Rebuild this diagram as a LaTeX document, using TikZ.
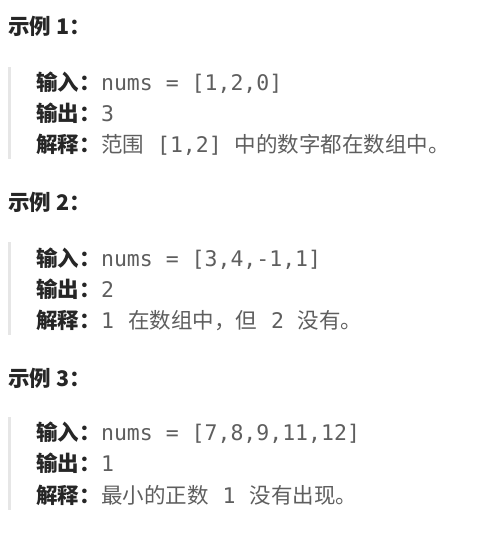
\documentclass[tikz,border=0pt]{standalone}
\usepackage{fontspec}
\setmonofont{DejaVu Sans Mono}
\newfontfamily\cjk{Noto Sans CJK SC}
\usetikzlibrary{positioning}
\definecolor{headcol}{HTML}{262626}
\definecolor{valcol}{HTML}{5E5E5E}
\definecolor{barcol}{HTML}{E6E6E6}
\newcommand{\code}[1]{{\ttfamily\fontsize{21.5}{24}\selectfont #1}}
\tikzset{
  heading/.style={anchor=base west,inner sep=0pt,text=headcol,
                  font=\cjk\bfseries\fontsize{21.5}{24}\selectfont},
  fieldname/.style={anchor=base west,inner sep=0pt,text=headcol,
                    font=\cjk\bfseries\fontsize{21.5}{24}\selectfont},
  fieldval/.style={anchor=base west,inner sep=0pt,text=valcol,
                   font=\cjk\fontsize{21.5}{24}\selectfont},
  quotebar/.style={fill=barcol,draw=none},
}
\begin{document}
\begin{tikzpicture}[x=1pt,y=-1pt]
    \useasboundingbox (0,0) rectangle (476,537);

    % Example 1
    \node[heading] (head1) at (8,35) {示例 1：};
    \fill[quotebar] (8,67) rectangle (11,159);
    \node[fieldname] (in1)  at (36,91)  {输入：};
    \node[fieldname] (out1) at (36,122) {输出：};
    \node[fieldname] (exp1) at (36,153) {解释：};
    \node[fieldval] (inval1)  at (in1.base east)  {\code{nums = [1,2,0]}};
    \node[fieldval] (outval1) at (out1.base east) {\code{3}};
    \node[fieldval] (expval1) at (exp1.base east)
        {范围\hspace{13pt}\code{[1,2]}\hspace{13pt}中的数字都在数组中。};

    % Example 2
    \node[heading] (head2) at (8,210) {示例 2：};
    \fill[quotebar] (8,242) rectangle (11,335);
    \node[fieldname] (in2)  at (36,266) {输入：};
    \node[fieldname] (out2) at (36,297) {输出：};
    \node[fieldname] (exp2) at (36,328) {解释：};
    \node[fieldval] (inval2)  at (in2.base east)  {\code{nums = [3,4,-1,1]}};
    \node[fieldval] (outval2) at (out2.base east) {\code{2}};
    \node[fieldval] (expval2) at (exp2.base east)
        {\code{1}\hspace{14pt}在数组中，但\hspace{14pt}\code{2}\hspace{14pt}没有。};

    % Example 3
    \node[heading] (head3) at (8,386) {示例 3：};
    \fill[quotebar] (8,417) rectangle (11,510);
    \node[fieldname] (in3)  at (36,440) {输入：};
    \node[fieldname] (out3) at (36,471) {输出：};
    \node[fieldname] (exp3) at (36,503) {解释：};
    \node[fieldval] (inval3)  at (in3.base east)  {\code{nums = [7,8,9,11,12]}};
    \node[fieldval] (outval3) at (out3.base east) {\code{1}};
    \node[fieldval] (expval3) at (exp3.base east)
        {最小的正数\hspace{14pt}\code{1}\hspace{14pt}没有出现。};
\end{tikzpicture}
\end{document}
